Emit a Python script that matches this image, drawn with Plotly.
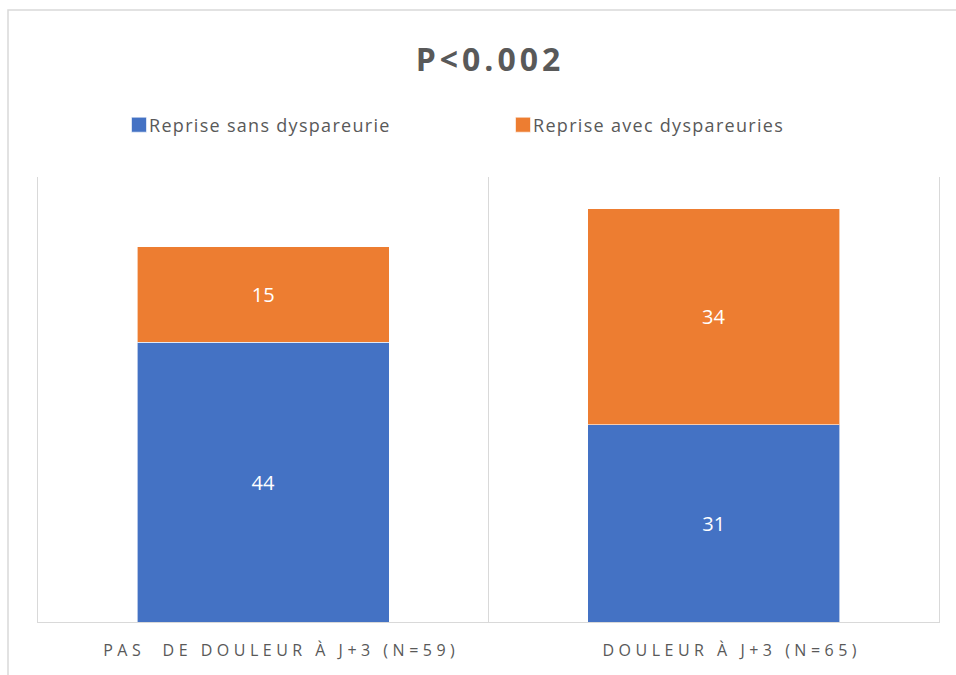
import plotly.graph_objects as go

categories = ["PAS  DE DOULEUR À J+3 (N=59)", "DOULEUR À J+3 (N=65)"]
series_names = ["Reprise sans dyspareurie", "Reprise avec dyspareuries"]
sans_dysp = [44, 31]
avec_dysp = [15, 34]
colors = ["#4472C4", "#ED7D31"]
title_text = "P<0.002"

W, H = 956, 675
L, R, T, B = 38, 17, 177, 53

fig = go.Figure()
for name, vals, col in zip(series_names, [sans_dysp, avec_dysp], colors):
    fig.add_trace(go.Bar(
        x=categories, y=vals, name=name,
        marker=dict(color=col, line=dict(color="rgba(255,255,255,0.6)", width=1)),
        text=[str(v) for v in vals], textposition="inside",
        insidetextanchor="middle",
        textfont=dict(color="white", size=20, family="Open Sans"),
        hoverinfo="skip",
    ))

pw = W - L - R
ph = H - T - B
fig.update_layout(
    width=W, height=H,
    barmode="stack", bargap=0.44,
    margin=dict(l=L, r=R, t=T, b=B),
    paper_bgcolor="white", plot_bgcolor="white",
    font=dict(family="Open Sans", color="#595959"),
    title=dict(text="<b>" + title_text + "</b>", x=490 / W, xanchor="center",
               y=1 - 60 / H, yanchor="middle",
               font=dict(size=32, color="#595959", family="Open Sans")),
    legend=dict(orientation="h", x=(109 - L) / pw, xanchor="left",
                y=1 + (T - 125) / ph, yanchor="middle",
                traceorder="normal",
                font=dict(size=18, color="#595959"),
                entrywidth=339, entrywidthmode="pixels",
                itemclick=False, bgcolor="rgba(0,0,0,0)"),
    xaxis=dict(showline=True, linecolor="#D9D9D9", linewidth=1,
               showgrid=True, gridcolor="#D9D9D9", gridwidth=1,
               tickson="boundaries", ticks="", zeroline=False,
               ticklabelstandoff=14, ticklabelshift=18,
               tickfont=dict(size=16, color="#595959", family="Open Sans")),
    yaxis=dict(range=[0, 70], showticklabels=False, showgrid=False,
               zeroline=False, showline=True, mirror=True,
               linecolor="#D9D9D9", linewidth=1, ticks=""),
    shapes=[dict(type="rect", xref="paper", yref="paper",
                 x0=(8 - L) / pw, x1=(W + 20 - L) / pw,
                 y0=-(H + 20 - (H - B)) / ph, y1=1 + (T - 10) / ph,
                 line=dict(color="#D9D9D9", width=1.5), layer="below")],
)

post_js = """
document.body.style.margin = '0';
document.body.style.overflow = 'hidden';
var gd = document.getElementById('{plot_id}');
function sp() {
  gd.querySelectorAll('.xtick text').forEach(function(t){ t.style.letterSpacing = '4.5px'; });
  gd.querySelectorAll('.gtitle').forEach(function(t){ t.style.letterSpacing = '4px'; });
  gd.querySelectorAll('.legendtext').forEach(function(t){ t.style.letterSpacing = '1.3px'; });
  gd.querySelectorAll('.legend .legendpoints path').forEach(function(p){
    p.setAttribute('d', 'M7.5,7.5H-7.5V-7.5H7.5Z');
    p.setAttribute('transform', 'translate(30,0)');
  });
}
sp();
gd.on('plotly_afterplot', sp);
"""

fig.write_html("out.html", post_script=post_js,
               config={"displayModeBar": False, "staticPlot": True})
